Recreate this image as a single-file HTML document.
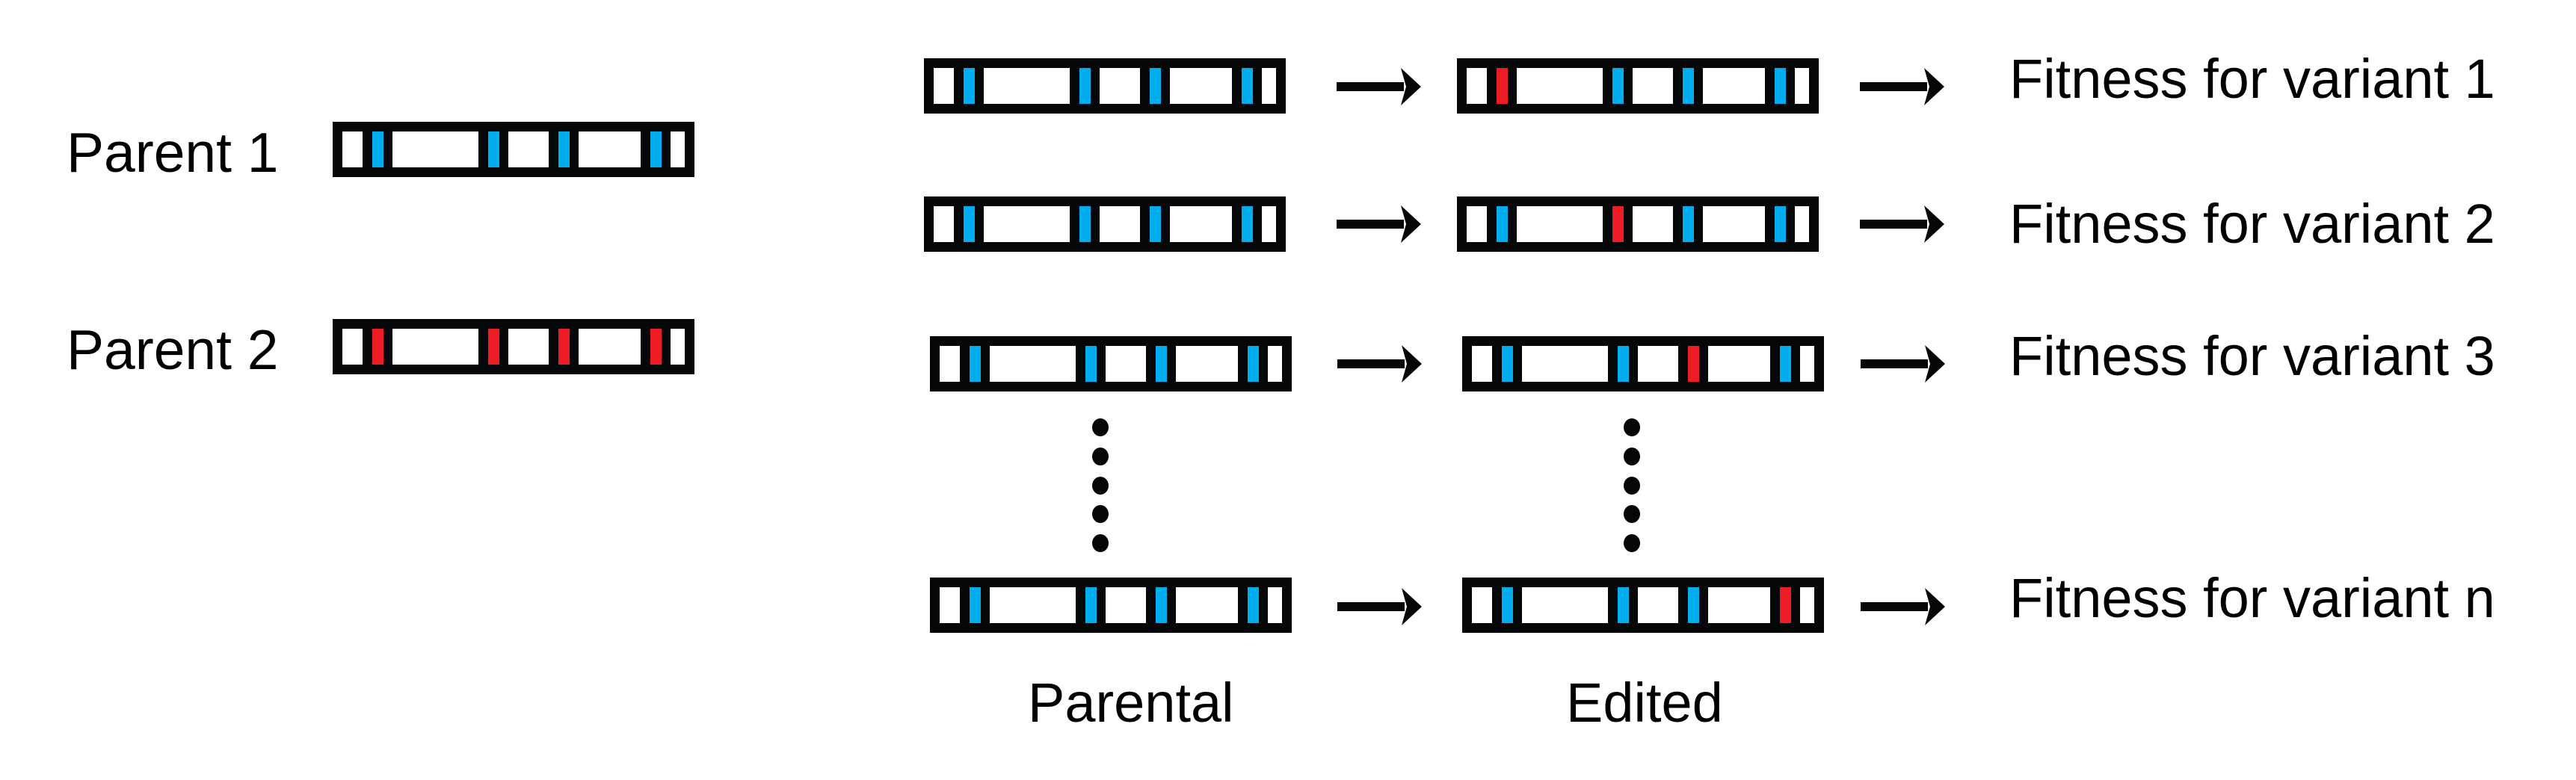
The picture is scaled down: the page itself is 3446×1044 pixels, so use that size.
<!DOCTYPE html>
<html><head><meta charset="utf-8"><style>
html,body{margin:0;padding:0;background:#fff;}
svg{display:block;}
text{font-family:"Liberation Sans",Arial,sans-serif;fill:#000;}
</style></head><body>
<svg width="3446" height="1044" viewBox="0 0 3446 1044" xmlns="http://www.w3.org/2000/svg">
<defs>
<g id="bar">
  <rect x="0" y="0" width="484" height="74" fill="#050608"/>
  <rect x="13" y="13" width="458" height="48" fill="#fff"/>
  <rect x="40" y="0" width="40" height="74" fill="#050608"/>
  <rect x="195" y="0" width="40" height="74" fill="#050608"/>
  <rect x="289" y="0" width="40" height="74" fill="#050608"/>
  <rect x="412" y="0" width="40" height="74" fill="#050608"/>
</g>
<g id="arrow">
  <rect x="0" y="-6" width="90" height="12" fill="#050608"/>
  <polygon points="113,0 86,-25 93,0 86,25" fill="#050608"/>
</g>
</defs>

<!-- Parents -->
<text x="89" y="230" font-size="75">Parent 1</text>
<text x="89" y="494" font-size="75">Parent 2</text>
<g transform="translate(445,163)"><use href="#bar"/>
 <rect x="53" y="13" width="15" height="48" fill="#00adef"/><rect x="208" y="13" width="15" height="48" fill="#00adef"/>
 <rect x="302" y="13" width="15" height="48" fill="#00adef"/><rect x="425" y="13" width="15" height="48" fill="#00adef"/></g>
<g transform="translate(445,427)"><use href="#bar"/>
 <rect x="53" y="13" width="15" height="48" fill="#ed1c24"/><rect x="208" y="13" width="15" height="48" fill="#ed1c24"/>
 <rect x="302" y="13" width="15" height="48" fill="#ed1c24"/><rect x="425" y="13" width="15" height="48" fill="#ed1c24"/></g>

<!-- Row 1 -->
<g transform="translate(1236,78)"><use href="#bar"/>
 <rect x="53" y="13" width="15" height="48" fill="#00adef"/><rect x="208" y="13" width="15" height="48" fill="#00adef"/>
 <rect x="302" y="13" width="15" height="48" fill="#00adef"/><rect x="425" y="13" width="15" height="48" fill="#00adef"/></g>
<g transform="translate(1788,116)"><use href="#arrow"/></g>
<g transform="translate(1949,78)"><use href="#bar"/>
 <rect x="53" y="13" width="15" height="48" fill="#ed1c24"/><rect x="208" y="13" width="15" height="48" fill="#00adef"/>
 <rect x="302" y="13" width="15" height="48" fill="#00adef"/><rect x="425" y="13" width="15" height="48" fill="#00adef"/></g>
<g transform="translate(2488,116)"><use href="#arrow"/></g>
<text x="2688" y="131" font-size="74">Fitness for variant 1</text>

<!-- Row 2 -->
<g transform="translate(1236,263)"><use href="#bar"/>
 <rect x="53" y="13" width="15" height="48" fill="#00adef"/><rect x="208" y="13" width="15" height="48" fill="#00adef"/>
 <rect x="302" y="13" width="15" height="48" fill="#00adef"/><rect x="425" y="13" width="15" height="48" fill="#00adef"/></g>
<g transform="translate(1788,300)"><use href="#arrow"/></g>
<g transform="translate(1949,263)"><use href="#bar"/>
 <rect x="53" y="13" width="15" height="48" fill="#00adef"/><rect x="208" y="13" width="15" height="48" fill="#ed1c24"/>
 <rect x="302" y="13" width="15" height="48" fill="#00adef"/><rect x="425" y="13" width="15" height="48" fill="#00adef"/></g>
<g transform="translate(2488,300)"><use href="#arrow"/></g>
<text x="2688" y="325" font-size="74">Fitness for variant 2</text>

<!-- Row 3 -->
<g transform="translate(1244,450)"><use href="#bar"/>
 <rect x="53" y="13" width="15" height="48" fill="#00adef"/><rect x="208" y="13" width="15" height="48" fill="#00adef"/>
 <rect x="302" y="13" width="15" height="48" fill="#00adef"/><rect x="425" y="13" width="15" height="48" fill="#00adef"/></g>
<g transform="translate(1789,487)"><use href="#arrow"/></g>
<g transform="translate(1956,450)"><use href="#bar"/>
 <rect x="53" y="13" width="15" height="48" fill="#00adef"/><rect x="208" y="13" width="15" height="48" fill="#00adef"/>
 <rect x="302" y="13" width="15" height="48" fill="#ed1c24"/><rect x="425" y="13" width="15" height="48" fill="#00adef"/></g>
<g transform="translate(2489,487)"><use href="#arrow"/></g>
<text x="2688" y="502" font-size="74">Fitness for variant 3</text>

<!-- Dots -->
<g fill="#050608">
 <ellipse cx="1472" cy="572" rx="11" ry="12"/><ellipse cx="1472" cy="611" rx="11" ry="12"/>
 <ellipse cx="1472" cy="650" rx="11" ry="12"/><ellipse cx="1472" cy="688" rx="11" ry="12"/>
 <ellipse cx="1472" cy="727" rx="11" ry="12"/>
 <ellipse cx="2183" cy="572" rx="11" ry="12"/><ellipse cx="2183" cy="611" rx="11" ry="12"/>
 <ellipse cx="2183" cy="650" rx="11" ry="12"/><ellipse cx="2183" cy="688" rx="11" ry="12"/>
 <ellipse cx="2183" cy="727" rx="11" ry="12"/>
</g>

<!-- Row n -->
<g transform="translate(1244,773)"><use href="#bar"/>
 <rect x="53" y="13" width="15" height="48" fill="#00adef"/><rect x="208" y="13" width="15" height="48" fill="#00adef"/>
 <rect x="302" y="13" width="15" height="48" fill="#00adef"/><rect x="425" y="13" width="15" height="48" fill="#00adef"/></g>
<g transform="translate(1789,812)"><use href="#arrow"/></g>
<g transform="translate(1956,773)"><use href="#bar"/>
 <rect x="53" y="13" width="15" height="48" fill="#00adef"/><rect x="208" y="13" width="15" height="48" fill="#00adef"/>
 <rect x="302" y="13" width="15" height="48" fill="#00adef"/><rect x="425" y="13" width="15" height="48" fill="#ed1c24"/></g>
<g transform="translate(2489,812)"><use href="#arrow"/></g>
<text x="2688" y="826" font-size="74">Fitness for variant n</text>

<text x="1375" y="966" font-size="74">Parental</text>
<text x="2095" y="966" font-size="74">Edited</text>
</svg>
</body></html>
